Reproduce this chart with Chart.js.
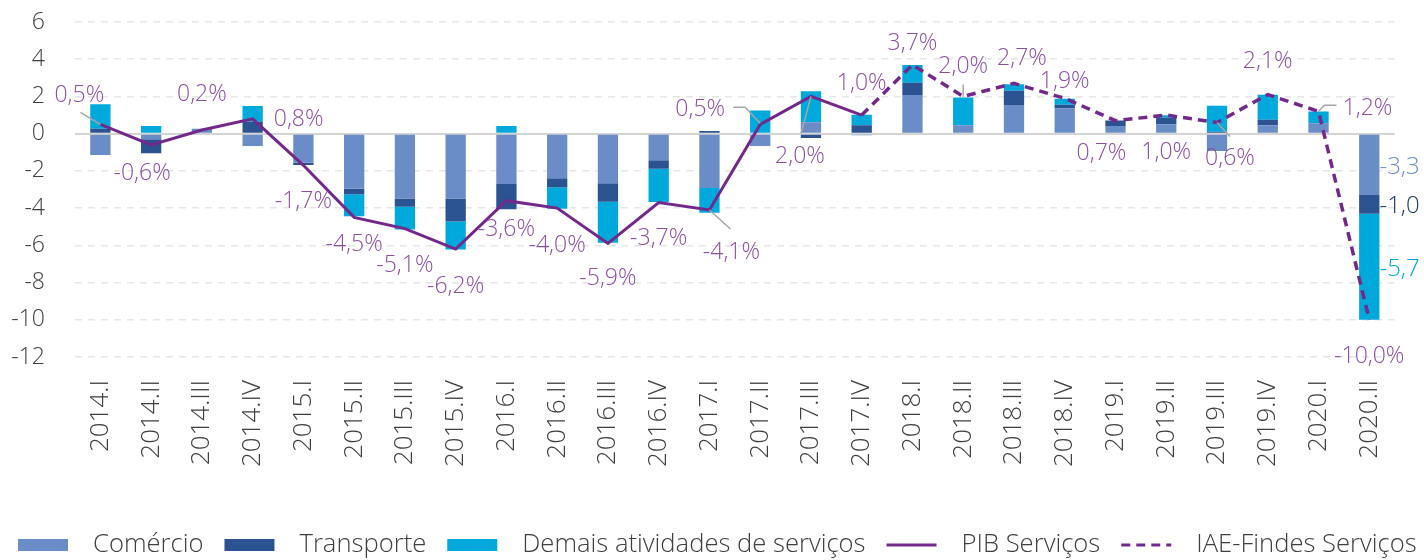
<!DOCTYPE html>
<html>
<head>
<meta charset="utf-8">
<script src="https://cdn.jsdelivr.net/npm/chart.js@4"></script>
<style>body{margin:0;background:#fff}</style>
</head>
<body>
<canvas id="chartServicos" width="1424" height="560"></canvas>
<script>
// contribuições ao crescimento do setor de serviços (p.p.)
var trimestres = ['2014.I','2014.II','2014.III','2014.IV','2015.I','2015.II','2015.III','2015.IV',
    '2016.I','2016.II','2016.III','2016.IV','2017.I','2017.II','2017.III','2017.IV',
    '2018.I','2018.II','2018.III','2018.IV','2019.I','2019.II','2019.III','2019.IV','2020.I','2020.II'];

var comercio = [-1.15, -0.30, 0.27, -0.66, -1.56, -2.96, -3.48, -3.48, -2.70, -2.40, -2.67, -1.43, -2.92,
    -0.66, 0.61, -0.08, 2.08, 0.45, 1.54, 1.36, 0.41, 0.50, -0.93, 0.45, 0.56, -3.30];
var transporte = [0.27, -0.75, 0, 0.65, -0.13, -0.30, -0.45, -1.24, -1.36, -0.48, -0.99, -0.45, 0.14,
    0, -0.23, 0.45, 0.66, 0, 0.77, 0.20, 0.30, 0.36, 0.10, 0.30, 0, -1.00];
var demais = [1.31, 0.41, 0, 0.84, 0, -1.18, -1.22, -1.50, 0.41, -1.15, -2.20, -1.79, -1.33,
    1.24, 1.67, 0.57, 0.95, 1.50, 0.34, 0.32, 0, 0.13, 1.40, 1.34, 0.63, -5.70];

var pibServicos = [0.5, -0.6, 0.2, 0.8, -1.7, -4.5, -5.1, -6.2, -3.6, -4.0, -5.9, -3.7, -4.1, 0.5, 2.0, 1.0,
    null, null, null, null, null, null, null, null, null, null];
var iaeFindes = [null, null, null, null, null, null, null, null, null, null, null, null, null, null, null, 1.0,
    3.7, 2.0, 2.7, 1.9, 0.7, 1.0, 0.6, 2.1, 1.2, -10.0];

var yTicks = [-12, -10, -8, -6, -4, -2, 0, 2, 4, 6];

// posição dos rótulos em relação ao ponto (px)
var rotDx = [-21, -9, 0, 46, 0, 0, 0, 0, 0, 0, 0, 0, 22, -60, -11, 0, 0, 0, 8, 0, -14, 0, 13, 0, 49, 0];
var rotDy = [-29, 29, -35, 1, 36, 27, 37, 37, 29, 37, 35, 36, 42, -15, 60, -32, -21, -30, -25, -17, 33, 37, 36, -33, -3, 37];
var guias = {
    0: [[-20, -12], [0, 0]],
    12: [[0, 0], [21, 19]],
    13: [[-27, -17], [-15, -17], [0, -1]],
    14: [[0, 0], [-10, 37]],
    17: [[0, -12], [0, 0]],
    22: [[0, 0], [13, 14]],
    24: [[0, 0], [6, -6], [18, -6]]
};

var FONTE = "'Open Sans', sans-serif";
var corComercio = '#6a8dc7', corTransporte = '#2b5291', corDemais = '#00a9db';
var corLinha = '#72298b', corRotulo = '#8a4fa2';

function fmt(v) { return v.toFixed(1).replace('.', ','); }

var rotulosPlugin = {
    id: 'rotulos',
    afterDatasetsDraw: function(chart) {
        var ctx = chart.ctx;
        var xs = chart.scales.x, ys = chart.scales.y;
        ctx.save();
        // linhas guia
        ctx.strokeStyle = '#a6a6a6';
        ctx.lineWidth = 1.5;
        Object.keys(guias).forEach(function(k) {
            var i = +k;
            var v = pibServicos[i] != null ? pibServicos[i] : iaeFindes[i];
            var px = xs.getPixelForValue(i), py = ys.getPixelForValue(v);
            ctx.beginPath();
            guias[k].forEach(function(p, j) {
                if (j === 0) ctx.moveTo(px + p[0], py + p[1]);
                else ctx.lineTo(px + p[0], py + p[1]);
            });
            ctx.stroke();
        });
        // rótulos da linha
        ctx.font = '300 23px ' + FONTE;
        ctx.fillStyle = corRotulo;
        ctx.textAlign = 'center';
        ctx.textBaseline = 'middle';
        trimestres.forEach(function(t, i) {
            var v = pibServicos[i] != null ? pibServicos[i] : iaeFindes[i];
            var px = xs.getPixelForValue(i), py = ys.getPixelForValue(v);
            ctx.fillText(fmt(v) + '%', px + rotDx[i], py + rotDy[i]);
        });
        // rótulos das contribuições no último trimestre
        var ult = trimestres.length - 1;
        var cores = ['#6a8dc7', '#1f3869', '#00a9db'];
        var series = [comercio, transporte, demais];
        ctx.textAlign = 'left';
        ctx.font = '300 24px ' + FONTE;
        [0, 1, 2].forEach(function(d) {
            var el = chart.getDatasetMeta(d).data[ult];
            ctx.fillStyle = cores[d];
            ctx.fillText(fmt(series[d][ult]), el.x + el.width / 2, (el.y + el.base) / 2 + 2);
        });
        ctx.restore();
    },
    afterDraw: function(chart) {
        // legenda
        var ctx = chart.ctx;
        ctx.save();
        ctx.font = '300 25.6px ' + FONTE;
        ctx.textBaseline = 'middle';
        ctx.textAlign = 'left';
        var x = 18, y = 545;
        chart.data.datasets.forEach(function(ds) {
            if (ds.type === 'line') {
                ctx.strokeStyle = ds.borderColor;
                ctx.lineWidth = 3;
                ctx.setLineDash(ds.borderDash || []);
                ctx.beginPath();
                ctx.moveTo(x, y);
                ctx.lineTo(x + 50, y);
                ctx.stroke();
                ctx.setLineDash([]);
            } else {
                ctx.fillStyle = ds.backgroundColor;
                ctx.fillRect(x, y - 6, 50, 12);
            }
            ctx.fillStyle = '#404040';
            ctx.fillText(ds.label, x + 75, y);
            x += 75 + ctx.measureText(ds.label).width + 21;
        });
        ctx.restore();
    }
};

new Chart(document.getElementById('chartServicos').getContext('2d'), {
    type: 'bar',
    data: {
        labels: trimestres,
        datasets: [
            { label: 'Comércio', data: comercio, backgroundColor: corComercio, stack: 'b', order: 2 },
            { label: 'Transporte', data: transporte, backgroundColor: corTransporte, stack: 'b', order: 2 },
            { label: 'Demais atividades de serviços', data: demais, backgroundColor: corDemais, stack: 'b', order: 2 },
            { type: 'line', label: 'PIB Serviços', data: pibServicos, borderColor: corLinha, borderWidth: 3,
              pointRadius: 0, tension: 0, stack: 'l1', order: 1 },
            { type: 'line', label: 'IAE-Findes Serviços', data: iaeFindes, borderColor: corLinha, borderWidth: 3.5,
              borderDash: [9, 6], pointRadius: 0, tension: 0, stack: 'l2', order: 1 }
        ]
    },
    options: {
        responsive: false,
        animation: false,
        barPercentage: 0.4,
        categoryPercentage: 1,
        layout: { padding: { left: 10, right: 28, top: 22, bottom: 70 } },
        plugins: { legend: { display: false }, tooltip: { enabled: false } },
        scales: {
            x: {
                stacked: true,
                grid: { display: false, drawTicks: false },
                border: { display: false },
                ticks: {
                    autoSkip: false, maxRotation: 90, minRotation: 90, padding: 23,
                    color: '#404040', font: { family: FONTE, size: 26, weight: '300' }
                },
                afterFit: function(s) { s.height = 133; }
            },
            y: {
                stacked: true,
                min: -12, max: 6,
                afterBuildTicks: function(s) { s.ticks = yTicks.map(function(v) { return { value: v }; }); },
                grid: {
                    drawTicks: false,
                    color: function(c) { return c.tick && c.tick.value === 0 ? '#d4d4d4' : '#e6e6e6'; },
                    lineWidth: function(c) { return c.tick && c.tick.value === 0 ? 2 : 1.5; }
                },
                border: {
                    display: false,
                    dash: function(c) { return c.tick && c.tick.value === 0 ? [] : [7, 6]; }
                },
                ticks: {
                    padding: 30, color: '#404040',
                    font: { family: FONTE, size: 23, weight: '300' }
                },
                afterFit: function(s) { s.width = 65; s.paddingTop = 0; s.paddingBottom = 0; }
            }
        }
    },
    plugins: [rotulosPlugin]
});
</script>
</body>
</html>
